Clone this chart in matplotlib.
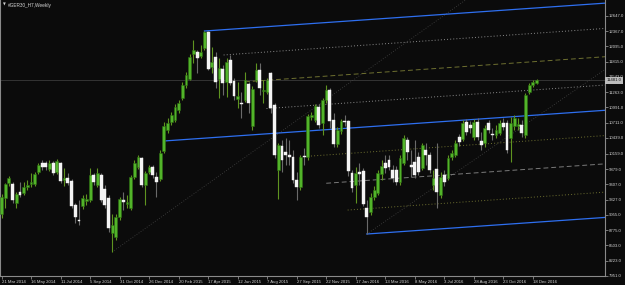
import matplotlib
matplotlib.use('Agg')
import matplotlib.pyplot as plt
import numpy as np

# weekly GER30 candles, 21 Mar 2014 .. 30 Dec 2016
opens = [9067, 9356, 9627, 9609, 9266, 9464, 9446, 9555, 9609, 9609,
         9825, 9988, 9988, 9880, 9988, 9825, 9988, 9681, 9717, 9663,
         9230, 8959, 9212, 9302, 9320, 9771, 9591, 9771, 9519, 9356,
         8724, 8652, 9013, 9320, 9248, 9176, 9735, 9916, 10078, 9591,
         9825, 9916, 9735, 9699, 10205, 10584, 10728, 10764, 10945, 11161,
         11396, 11504, 11955, 11991, 11919, 12064, 12352, 11721, 11901, 11504,
         11685, 11450, 11847, 11468, 11143, 11071, 11125, 11414, 10656, 11486,
         11667, 11287, 11269, 11612, 11035, 9862, 10295, 10186, 10132, 10096,
         9681, 9555, 10114, 10096, 10818, 10764, 10999, 10710, 11125, 11306,
         10764, 10331, 10566, 10746, 10746, 9807, 9591, 9825, 9844, 9176,
         9103, 9374, 9446, 9789, 9988, 10042, 9862, 9862, 9645, 9988,
         10403, 9952, 10006, 10096, 9898, 10223, 10132, 9591, 9880, 9410,
         9771, 9717, 10096, 10132, 10457, 10421, 10728, 10674, 10457, 10728,
         10385, 10349, 10710, 10511, 10493, 10529, 10710, 10710, 10439, 10656,
         10656, 10674, 10493, 11269, 11396, 11432]
highs = [9428, 9627, 9753, 9645, 9464, 9645, 9645, 9681, 9807, 9825,
         9988, 10042, 10024, 10042, 10024, 10060, 10006, 9898, 9807, 9699,
         9266, 9320, 9410, 9428, 9898, 9807, 9898, 9807, 9591, 9410,
         9067, 9067, 9374, 9464, 9410, 9771, 10042, 10132, 10096, 9844,
         9952, 9952, 9825, 10223, 10728, 10800, 10908, 11053, 11125, 11450,
         11630, 11955, 12208, 12028, 12118, 12370, 12370, 12082, 11991, 11883,
         11757, 11883, 11937, 11522, 11450, 11269, 11630, 11450, 11378, 11793,
         11793, 11486, 11522, 11630, 11071, 10349, 10403, 10439, 10403, 10223,
         9825, 10132, 10259, 10872, 10908, 11053, 11053, 11161, 11396, 11342,
         10890, 10638, 10782, 10854, 10764, 9862, 9916, 9988, 9898, 9320,
         9446, 9573, 9862, 10042, 10132, 10132, 9952, 9934, 10132, 10493,
         10457, 10223, 10403, 10186, 10349, 10349, 10186, 9862, 10349, 9825,
         9862, 10132, 10223, 10403, 10511, 10764, 10782, 10746, 10782, 10800,
         10547, 10674, 10764, 10620, 10674, 10764, 10800, 10764, 10818, 10854,
         10800, 10764, 11251, 11432, 11486, 11504]
lows = [8995, 9176, 9573, 9266, 9176, 9374, 9410, 9501, 9555, 9573,
        9789, 9862, 9862, 9844, 9771, 9789, 9627, 9573, 9591, 9176,
        8905, 8869, 9158, 9230, 9284, 9591, 9555, 9284, 9176, 8742,
        8381, 8598, 8959, 9140, 9176, 9140, 9699, 9880, 9555, 9230,
        9789, 9717, 9374, 9663, 10168, 10529, 10674, 10728, 10890, 11125,
        11342, 11486, 11793, 11612, 11883, 12028, 11667, 11612, 11342, 11161,
        11215, 11179, 11396, 11125, 10981, 10800, 11089, 10890, 10584, 11450,
        11215, 11071, 11233, 10890, 10078, 9338, 9825, 9952, 9952, 9627,
        9320, 9501, 9952, 10042, 10764, 10728, 10620, 10493, 11071, 10620,
        10277, 10277, 10511, 10656, 9753, 9464, 9266, 9591, 9212, 8706,
        9049, 9320, 9410, 9681, 9807, 9862, 9645, 9591, 9591, 9952,
        10042, 9735, 9717, 9771, 9862, 9952, 9807, 9501, 9176, 9356,
        9573, 9681, 10042, 10096, 10295, 10385, 10493, 10529, 10403, 10403,
        10223, 10277, 10529, 10403, 10439, 10493, 10584, 10168, 10006, 10584,
        10584, 10457, 10439, 11233, 11360, 11414]
closes = [9374, 9609, 9717, 9320, 9428, 9410, 9555, 9591, 9645, 9789,
          9952, 9916, 9916, 9988, 9807, 10024, 9663, 9717, 9627, 9212,
          9013, 8941, 9356, 9338, 9771, 9645, 9807, 9320, 9230, 8815,
          8869, 9013, 9338, 9284, 9284, 9735, 9988, 10096, 9591, 9807,
          9916, 9771, 9645, 10168, 10656, 10710, 10854, 10999, 11071, 11396,
          11576, 11901, 12028, 11883, 11991, 12352, 11685, 11811, 11450, 11703,
          11432, 11811, 11432, 11197, 11197, 11053, 11486, 11071, 11324, 11667,
          11342, 11306, 11486, 10981, 10132, 10313, 10042, 10132, 10096, 9681,
          9555, 10096, 10096, 10836, 10854, 11017, 10674, 11125, 11306, 10746,
          10331, 10584, 10746, 10728, 9844, 9537, 9807, 9789, 9248, 9013,
          9374, 9501, 9807, 9934, 9898, 9916, 9717, 9645, 10078, 10439,
          10186, 9916, 9771, 9825, 10313, 10132, 9862, 9717, 9464, 9735,
          9645, 10078, 10168, 10349, 10367, 10710, 10547, 10620, 10728, 10457,
          10313, 10620, 10584, 10493, 10584, 10710, 10638, 10223, 10710, 10800,
          10692, 10529, 11215, 11396, 11450, 11481]

date_pos = [0, 8, 16, 24, 32, 40, 48, 56, 64, 72, 80, 88, 96, 104, 112, 120, 128, 136, 144]
date_labels = ['21 Mar 2014', '16 May 2014', '11 Jul 2014', '5 Sep 2014', '31 Oct 2014',
               '26 Dec 2014', '20 Feb 2015', '17 Apr 2015', '12 Jun 2015', '7 Aug 2015',
               '27 Sep 2015', '22 Nov 2015', '17 Jan 2016', '13 Mar 2016', '8 May 2016',
               '3 Jul 2016', '28 Aug 2016', '23 Oct 2016', '18 Dec 2016']
price_ticks = [7951, 8223, 8503, 8775, 9055, 9327, 9607, 9879, 10159, 10439,
               10711, 10991, 11263, 11543, 11815, 12095, 12367, 12647]

# pitchfork anchors (bar index, price) and the two faint trend rays
fork_bars = [44, 55, 99]
fork_prices = [10385, 12370, 8706]
ray_bars = [30, 99]
ray_prices = [8381, 8706]
ray_slopes = [47.5, 46.0]
last_price = 11481.0

bg = '#0b0b0b'
axis_col = '#8a8a8a'
text_col = '#d2d2d2'
font = ['Liberation Sans', 'DejaVu Sans']
fs = 3.1

fig = plt.figure(figsize=(6.25, 2.85), dpi=100, facecolor=bg)
ax = fig.add_axes([0, 9 / 285, 605 / 625, 276 / 285], facecolor=bg)
x0, x1 = -0.41, 163.55
ax.set_xlim(x0, x1)
ax.set_ylim(7948, 12930)

# bid line
ax.axhline(last_price, color='#3a3a3a', lw=0.6, zorder=1)

# faint rays
for b, p, s in zip(ray_bars, ray_prices, ray_slopes):
    ax.plot([b, x1], [p, p + s * (x1 - b)], color='#444444', lw=0.6,
            ls=(0, (1, 2)), zorder=1)

# pitchfork
(b1, b2, b3), (p1, p2, p3) = fork_bars, fork_prices
mb, mp = (b2 + b3) / 2, (p2 + p3) / 2
slope = (mp - p1) / (mb - b1)
def fork_line(b, p, **kw):
    ax.plot([b, x1], [p, p + slope * (x1 - b)], zorder=2, **kw)

levels = [(0.118, '#8c8c8c', (0, (1, 2.2))),
          (0.25, '#6e7030', (0, (5, 3))),
          (0.382, '#8c8c8c', (0, (1, 2.2))),
          (0.618, '#6e7030', (0, (1, 2.2))),
          (0.75, '#7a7a7a', (0, (5, 3))),
          (0.882, '#6e7030', (0, (1, 2.2)))]
for t, col, ls in levels:
    fork_line(b2 + t * (b3 - b2), p2 + t * (p3 - p2), color=col, lw=0.7, ls=ls)
blue = '#2e6ff0'
fork_line(b1, p1, color=blue, lw=0.9)
fork_line(b2, p2, color=blue, lw=0.9)
fork_line(b3, p3, color=blue, lw=0.9)

# candles
idx = np.arange(len(closes))
o, h, l, c = map(np.array, (opens, highs, lows, closes))
up = c >= o
ax.vlines(idx[up], l[up], h[up], color='#5f9420', lw=0.8, zorder=3)
ax.vlines(idx[~up], l[~up], h[~up], color='#6a6a6a', lw=0.8, zorder=3)
bottom = np.minimum(o, c)
height = np.maximum(np.abs(c - o), 14)
ax.bar(idx[up], height[up], bottom=bottom[up], width=0.78, color='#52b42a',
       edgecolor='#2d6f12', lw=0.4, zorder=4)
ax.bar(idx[~up], height[~up], bottom=bottom[~up], width=0.78, color='#f4f4f4',
       edgecolor='#f4f4f4', lw=0.3, zorder=4)

# axes styling
ax.spines['top'].set_visible(False)
for side in ['right', 'bottom', 'left']:
    ax.spines[side].set_color(axis_col)
    ax.spines[side].set_linewidth(0.8)

ax.yaxis.tick_right()
ax.set_yticks(price_ticks)
ax.set_yticklabels(['%.1f' % v for v in price_ticks], family=font, fontsize=fs,
                   color=text_col)
ax.set_xticks(date_pos)
ax.set_xticklabels(date_labels, family=font, fontsize=fs, color=text_col, ha='left')
ax.tick_params(axis='both', colors=axis_col, length=2.0, width=0.6, pad=0.8,
               labelcolor=text_col)

# current price box
ax.annotate('%.1f' % last_price, xy=(1, last_price),
            xycoords=('axes fraction', 'data'), xytext=(1.0, 0),
            textcoords='offset points', va='center', ha='left',
            family=font, fontsize=fs, color='#101010',
            bbox=dict(boxstyle='square,pad=0.3', fc='#bcbcbc', ec='none'),
            annotation_clip=False, zorder=10)

fig.text(3 / 625, 1 - 5 / 285, '\u25bc', fontsize=2.6, color='#d0d0d0', va='center')
fig.text(8 / 625, 1 - 5 / 285, '#GER30_H7,Weekly', family=font, fontsize=3.4,
         color='#d8d8d8', va='center')

fig.savefig('out.png', dpi=100, facecolor=bg)
